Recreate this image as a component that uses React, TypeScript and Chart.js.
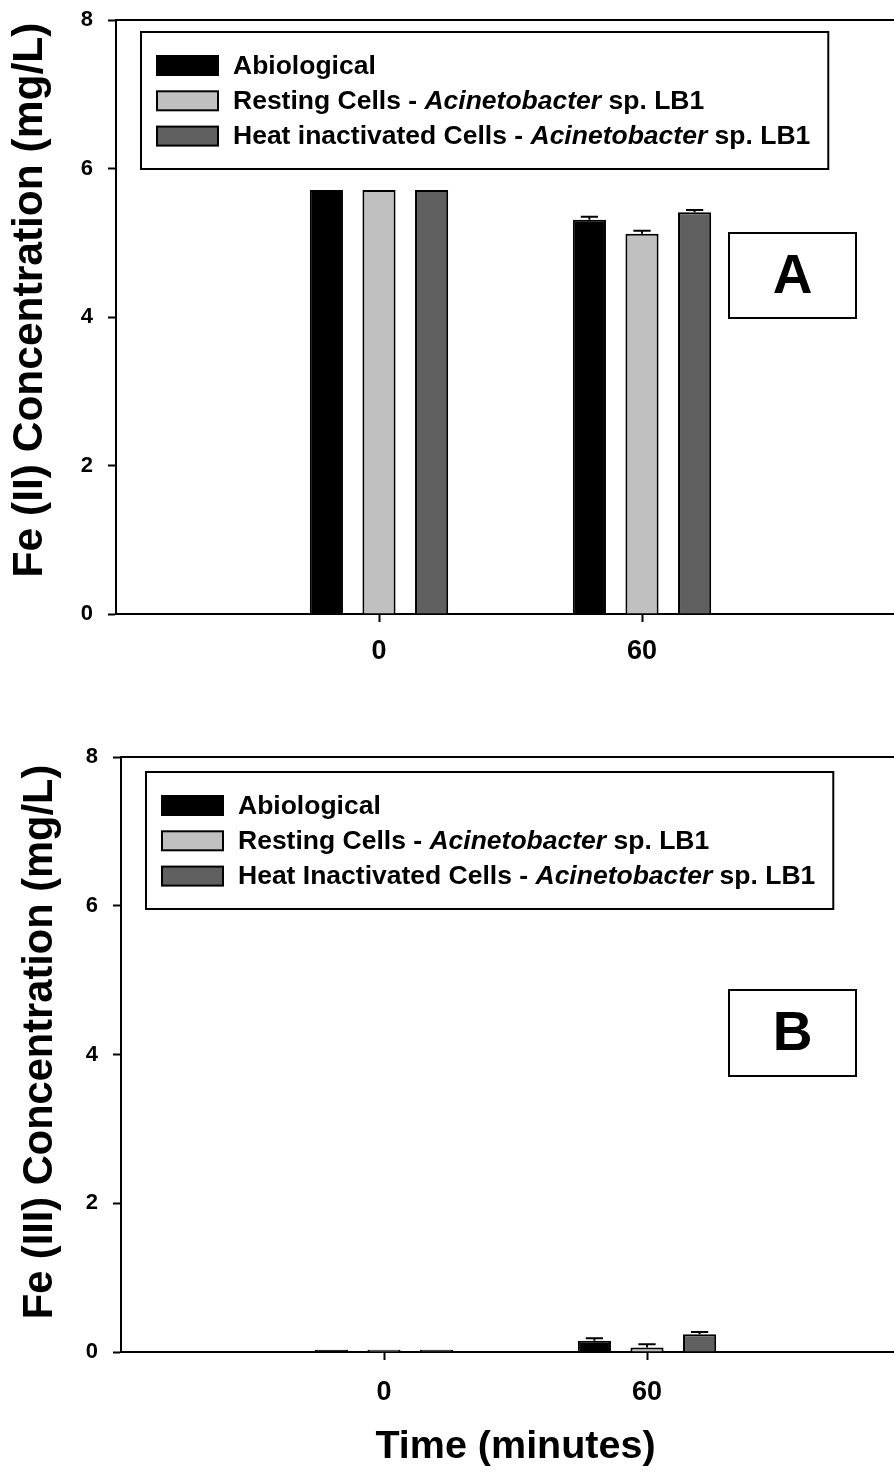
import React, { useEffect, useRef } from 'react';
import { Chart, registerables } from 'chart.js';

Chart.register(...registerables);

const FONT = '"Liberation Sans", Arial, Helvetica, sans-serif';

// ---------- data ----------
const timeCategories = ['', '0', '60', ''];
const yTickStep = 2;
const yMin = 0;
const yMax = 8;

const legendLabelsA = [
  'Abiological',
  'Resting Cells - *Acinetobacter* sp. LB1',
  'Heat inactivated Cells - *Acinetobacter* sp. LB1',
];
const legendLabelsB = [
  'Abiological',
  'Resting Cells - *Acinetobacter* sp. LB1',
  'Heat Inactivated Cells - *Acinetobacter* sp. LB1',
];
const seriesColors = ['#000000', '#c0c0c0', '#606060'];

const fe2Abiological = [null, 5.71, 5.31, null];
const fe2Resting = [null, 5.71, 5.12, null];
const fe2Heat = [null, 5.71, 5.41, null];
const fe2AbiologicalErr = [0, 0, 0.04, 0];
const fe2RestingErr = [0, 0, 0.04, 0];
const fe2HeatErr = [0, 0, 0.03, 0];

const fe3Abiological = [null, 0.03, 0.15, null];
const fe3Resting = [null, 0.03, 0.06, null];
const fe3Heat = [null, 0.03, 0.24, null];
const fe3AbiologicalErr = [0, 0, 0.035, 0];
const fe3RestingErr = [0, 0, 0.045, 0];
const fe3HeatErr = [0, 0, 0.03, 0];

const yTitleA = 'Fe (II) Concentration (mg/L)';
const yTitleB = 'Fe (III) Concentration (mg/L)';
const xTitleB = 'Time (minutes)';

// ---------- plugins ----------
const plain = (s: string) => s.split('*').join('');

const framePlugin = {
  id: 'topFrame',
  afterDraw(chart: any) {
    const { ctx, chartArea } = chart;
    ctx.save();
    ctx.strokeStyle = '#000';
    ctx.lineWidth = 2;
    ctx.beginPath();
    ctx.moveTo(chartArea.left - 1, chartArea.top);
    ctx.lineTo(chartArea.right, chartArea.top);
    ctx.stroke();
    ctx.restore();
  },
};

const errorBarPlugin = {
  id: 'errorBars',
  afterDatasetsDraw(chart: any) {
    const { ctx } = chart;
    const yScale = chart.scales.y;
    chart.data.datasets.forEach((ds: any, di: number) => {
      const errs = ds.errors;
      if (!errs) return;
      const meta = chart.getDatasetMeta(di);
      meta.data.forEach((bar: any, i: number) => {
        const v = ds.data[i];
        const e = errs[i];
        if (v == null || !e) return;
        const yTop = yScale.getPixelForValue(v + e);
        const half = bar.width * 0.26;
        ctx.save();
        ctx.strokeStyle = '#000';
        ctx.lineWidth = 2;
        ctx.beginPath();
        ctx.moveTo(bar.x, bar.y);
        ctx.lineTo(bar.x, yTop);
        ctx.moveTo(bar.x - half, yTop);
        ctx.lineTo(bar.x + half, yTop);
        ctx.stroke();
        ctx.restore();
      });
    });
  },
};

function richWidth(ctx: any, text: string, size: number) {
  let w = 0;
  text.split('*').forEach((p, k) => {
    if (!p) return;
    ctx.font = `${k % 2 ? 'italic ' : ''}bold ${size}px ${FONT}`;
    w += ctx.measureText(p).width;
  });
  return w;
}

function drawRich(ctx: any, text: string, x: number, y: number, size: number) {
  let cx = x;
  text.split('*').forEach((p, k) => {
    if (!p) return;
    ctx.font = `${k % 2 ? 'italic ' : ''}bold ${size}px ${FONT}`;
    ctx.fillText(p, cx, y);
    cx += ctx.measureText(p).width;
  });
}

const legendPlugin = {
  id: 'richLegend',
  afterDraw(chart: any, _args: any, opts: any) {
    const { ctx } = chart;
    const size = opts.fontSize;
    const labels: string[] = chart.data.datasets.map((d: any) => d.richLabel);
    ctx.save();
    let maxW = 0;
    labels.forEach((l) => (maxW = Math.max(maxW, richWidth(ctx, l, size))));
    const padL = 16, sw = 61, sh = 19, gap = 15, padR = 18;
    const w = padL + sw + gap + maxW + padR;
    const h = opts.height;
    ctx.fillStyle = '#fff';
    ctx.fillRect(opts.left, opts.top, w, h);
    ctx.strokeStyle = '#000';
    ctx.lineWidth = 2;
    ctx.strokeRect(opts.left, opts.top, w, h);
    labels.forEach((l, i) => {
      const cy = opts.top + opts.firstRow + i * opts.rowGap;
      const ds = chart.data.datasets[i];
      ctx.fillStyle = ds.backgroundColor;
      ctx.fillRect(opts.left + padL, cy - sh / 2, sw, sh);
      ctx.strokeStyle = '#000';
      ctx.lineWidth = 2;
      ctx.strokeRect(opts.left + padL, cy - sh / 2, sw, sh);
      ctx.fillStyle = '#000';
      ctx.textBaseline = 'middle';
      ctx.textAlign = 'left';
      drawRich(ctx, l, opts.left + padL + sw + gap, cy + 1, size);
    });
    ctx.restore();
  },
};

const tagPlugin = {
  id: 'panelTag',
  afterDraw(chart: any, _args: any, opts: any) {
    const { ctx } = chart;
    ctx.save();
    ctx.fillStyle = '#fff';
    ctx.fillRect(opts.left, opts.top, opts.width, opts.height);
    ctx.strokeStyle = '#000';
    ctx.lineWidth = 2;
    ctx.strokeRect(opts.left, opts.top, opts.width, opts.height);
    ctx.fillStyle = '#000';
    ctx.font = `bold ${opts.fontSize}px ${FONT}`;
    ctx.textAlign = 'center';
    ctx.textBaseline = 'middle';
    ctx.fillText(opts.text, opts.left + opts.width / 2, opts.top + opts.height / 2 + 2);
    ctx.restore();
  },
};

const yTitlePlugin = {
  id: 'yTitle',
  afterDraw(chart: any, _args: any, opts: any) {
    const { ctx } = chart;
    ctx.save();
    ctx.translate(opts.x, opts.y);
    ctx.rotate(-Math.PI / 2);
    ctx.fillStyle = '#000';
    ctx.font = `bold ${opts.fontSize}px ${FONT}`;
    ctx.textAlign = 'center';
    ctx.textBaseline = 'middle';
    ctx.fillText(opts.text, 0, 0);
    ctx.restore();
  },
};

// ---------- panels ----------
type PanelSpec = {
  top: number;
  width: number;
  height: number;
  padTop: number;
  yAxisWidth: number;
  xAxisHeight: number;
  xTickPad: number;
  yTitle: { text: string; x: number; y: number; fontSize: number };
  xTitle?: string;
  legendLabels: string[];
  values: (number | null)[][];
  errors: number[][];
  legendPos: { left: number; top: number };
  tag: { text: string; left: number; top: number; width: number; height: number };
};

const panelA: PanelSpec = {
  top: 0,
  width: 905,
  height: 700,
  padTop: 20,
  yAxisWidth: 116,
  xAxisHeight: 86,
  xTickPad: 13,
  yTitle: { text: yTitleA, x: 30, y: 300, fontSize: 42.5 },
  legendLabels: legendLabelsA,
  values: [fe2Abiological, fe2Resting, fe2Heat],
  errors: [fe2AbiologicalErr, fe2RestingErr, fe2HeatErr],
  legendPos: { left: 141, top: 32 },
  tag: { text: 'A', left: 729, top: 233, width: 127, height: 85 },
};

const panelB: PanelSpec = {
  top: 700,
  width: 910,
  height: 774,
  padTop: 57,
  yAxisWidth: 121,
  xAxisHeight: 122,
  xTickPad: 16,
  yTitle: { text: yTitleB, x: 41, y: 342, fontSize: 41.6 },
  xTitle: xTitleB,
  legendLabels: legendLabelsB,
  values: [fe3Abiological, fe3Resting, fe3Heat],
  errors: [fe3AbiologicalErr, fe3RestingErr, fe3HeatErr],
  legendPos: { left: 146, top: 72 },
  tag: { text: 'B', left: 729, top: 290, width: 127, height: 86 },
};

function buildConfig(p: PanelSpec): any {
  return {
    type: 'bar',
    data: {
      labels: timeCategories,
      datasets: p.values.map((vals, k) => ({
        label: plain(p.legendLabels[k]),
        richLabel: p.legendLabels[k],
        data: vals,
        errors: p.errors[k],
        backgroundColor: seriesColors[k],
        borderColor: '#000',
        borderWidth: 2,
        categoryPercentage: 0.6,
        barPercentage: 0.63,
      })),
    },
    options: {
      responsive: false,
      animation: false,
      devicePixelRatio: 1,
      layout: { padding: { top: p.padTop, left: 0, right: 0, bottom: 0 } },
      plugins: {
        legend: { display: false },
        tooltip: { enabled: false },
        richLegend: {
          left: p.legendPos.left,
          top: p.legendPos.top,
          height: 137,
          firstRow: 33.5,
          rowGap: 35.3,
          fontSize: 26.5,
        },
        panelTag: { ...p.tag, fontSize: 55 },
        yTitle: p.yTitle,
      },
      scales: {
        x: {
          type: 'category',
          offset: false,
          grid: {
            offset: false,
            drawOnChartArea: false,
            drawTicks: true,
            tickLength: 8,
            tickWidth: 2,
            tickColor: (c: any) => (c.tick && c.tick.label ? '#000' : 'rgba(0,0,0,0)'),
          },
          border: { display: true, color: '#000', width: 2 },
          ticks: {
            color: '#000',
            autoSkip: false,
            maxRotation: 0,
            padding: p.xTickPad,
            font: { family: FONT, weight: 'bold', size: 27 },
          },
          title: p.xTitle
            ? {
                display: true,
                text: p.xTitle,
                color: '#000',
                font: { family: FONT, weight: 'bold', size: 39.5 },
                padding: { top: 0, bottom: 3 },
              }
            : { display: false },
          afterFit: (s: any) => {
            s.height = p.xAxisHeight;
            s.paddingLeft = 0;
            s.paddingRight = 0;
          },
        },
        y: {
          min: yMin,
          max: yMax,
          grid: {
            drawOnChartArea: false,
            drawTicks: true,
            tickLength: 8,
            tickWidth: 2,
            tickColor: '#000',
          },
          border: { display: true, color: '#000', width: 2 },
          ticks: {
            stepSize: yTickStep,
            color: '#000',
            padding: 15,
            font: { family: FONT, weight: 'bold', size: 22 },
          },
          title: { display: false },
          afterFit: (s: any) => {
            s.width = p.yAxisWidth;
            s.paddingTop = 0;
            s.paddingBottom = 0;
          },
        },
      },
    },
    plugins: [framePlugin, errorBarPlugin, legendPlugin, tagPlugin, yTitlePlugin],
  };
}

function Panel({ spec }: { spec: PanelSpec }) {
  const ref = useRef<HTMLCanvasElement>(null);
  useEffect(() => {
    if (!ref.current) return;
    const chart = new Chart(ref.current, buildConfig(spec));
    return () => chart.destroy();
  }, [spec]);
  return (
    <div style={{ position: 'absolute', left: 0, top: spec.top, width: spec.width, height: spec.height }}>
      <canvas
        ref={ref}
        width={spec.width}
        height={spec.height}
        style={{ display: 'block', width: spec.width, height: spec.height }}
      />
    </div>
  );
}

export default function App() {
  return (
    <div
      style={{
        position: 'absolute',
        left: 0,
        top: 0,
        width: 894,
        height: 1474,
        overflow: 'hidden',
        background: '#fff',
      }}
    >
      <Panel spec={panelA} />
      <Panel spec={panelB} />
    </div>
  );
}
